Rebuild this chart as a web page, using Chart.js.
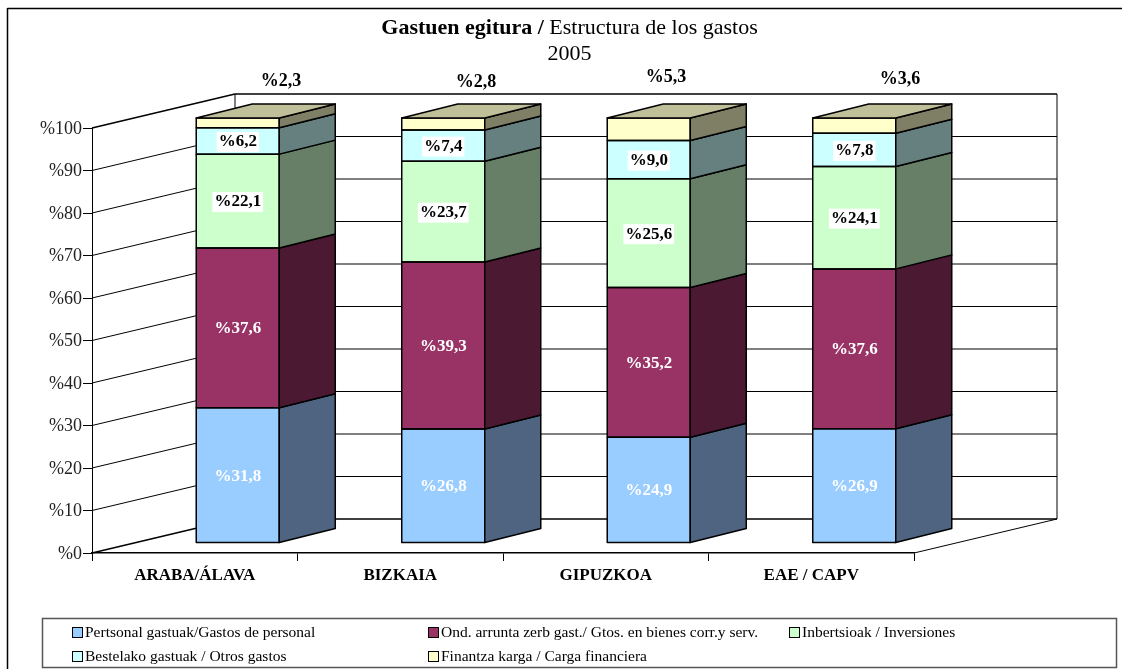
<!DOCTYPE html>
<html>
<head>
<meta charset="utf-8">
<title>Gastuen egitura</title>
<script src="https://cdn.jsdelivr.net/npm/chart.js@4"></script>
<style>
    html, body { margin: 0; padding: 0; background: #fff; }
    #wrap { width: 1122px; height: 669px; position: relative; }
</style>
</head>
<body>
<div id="wrap"><canvas id="grafikoa" width="1122" height="669"></canvas></div>
<script>
const categories = ['ARABA/ÁLAVA', 'BIZKAIA', 'GIPUZKOA', 'EAE / CAPV'];
const pertsonal = [31.8, 26.8, 24.9, 26.9];
const ondasunak = [37.6, 39.3, 35.2, 37.6];
const inbertsioak = [22.1, 23.7, 25.6, 24.1];
const bestelakoak = [6.2, 7.4, 9.0, 7.8];
const finantza = [2.3, 2.8, 5.3, 3.6];
const seriesNames = [
    'Pertsonal gastuak/Gastos de personal',
    'Ond. arrunta zerb gast./ Gtos. en bienes corr.y serv.',
    'Inbertsioak / Inversiones',
    'Bestelako gastuak / Otros gastos',
    'Finantza karga / Carga financiera'
];
const seriesColors = ['#99CCFF', '#993366', '#CCFFCC', '#CCFFFF', '#FFFFCC'];
const sideColors = ['#4F6480', '#4C1933', '#667F66', '#667F7F', '#7F7F66'];
const topColor = '#BFBF99';

const serif = '"Liberation Serif", "Times New Roman", serif';

// 3d look: wall depth and how far the bars sit inside it
const wallDx = 143, wallDy = -34;
const barDx = 43, barDy = -10;
const sideDx = 56, sideDy = -14;

// the last series labels were moved by hand above the bars
const topLabelX = [281, 476, 666, 900];
const topLabelY = [81, 82, 77, 79];

function pct(v) {
    return '%' + v.toFixed(1).replace('.', ',');
}

function line(ctx, x1, y1, x2, y2, w) {
    ctx.lineWidth = w || 1;
    ctx.beginPath();
    ctx.moveTo(x1, y1);
    ctx.lineTo(x2, y2);
    ctx.stroke();
}

const wallsPlugin = {
    id: 'walls',
    beforeDatasetsDraw(chart) {
        const ctx = chart.ctx;
        const y = chart.scales.y, a = chart.chartArea;
        ctx.save();
        ctx.strokeStyle = '#000';
        y.ticks.forEach((t) => {
            const p = y.getPixelForValue(t.value);
            const w = (t.value === 0 || t.value === 100) ? 1.5 : 1;
            line(ctx, a.left, p, a.left + wallDx, p + wallDy, w);
            line(ctx, a.left + wallDx, p + wallDy, a.right + wallDx, p + wallDy, w);
        });
        line(ctx, a.left + wallDx, a.top + wallDy, a.left + wallDx, a.bottom + wallDy, 1);
        line(ctx, a.right + wallDx, a.top + wallDy, a.right + wallDx, a.bottom + wallDy, 1);
        line(ctx, a.right, a.bottom, a.right + wallDx, a.bottom + wallDy, 1);
        ctx.restore();
        // bars go in front of the walls, moved into the box
        ctx.save();
        ctx.translate(barDx, barDy);
    },
    afterDatasetsDraw(chart) {
        const ctx = chart.ctx;
        ctx.restore();
        ctx.save();
        ctx.strokeStyle = '#000';
        ctx.lineWidth = 1.5;
        ctx.lineJoin = 'round';
        chart.data.datasets.forEach((ds, i) => {
            chart.getDatasetMeta(i).data.forEach((bar) => {
                const r = bar.x + bar.width / 2 + barDx;
                const l = bar.x - bar.width / 2 + barDx;
                const t = bar.y + barDy;
                const b = bar.base + barDy;
                // front outline, the seams between series stay solid black
                ctx.strokeRect(l, t, r - l, b - t);
                ctx.fillStyle = sideColors[i];
                ctx.beginPath();
                ctx.moveTo(r, t);
                ctx.lineTo(r + sideDx, t + sideDy);
                ctx.lineTo(r + sideDx, b + sideDy);
                ctx.lineTo(r, b);
                ctx.closePath();
                ctx.fill();
                ctx.stroke();
                if (i === chart.data.datasets.length - 1) {
                    ctx.fillStyle = topColor;
                    ctx.beginPath();
                    ctx.moveTo(l, t);
                    ctx.lineTo(l + sideDx, t + sideDy);
                    ctx.lineTo(r + sideDx, t + sideDy);
                    ctx.lineTo(r, t);
                    ctx.closePath();
                    ctx.fill();
                    ctx.stroke();
                }
            });
        });
        // value labels
        ctx.textAlign = 'center';
        ctx.textBaseline = 'middle';
        chart.data.datasets.forEach((ds, i) => {
            chart.getDatasetMeta(i).data.forEach((bar, j) => {
                const txt = pct(ds.data[j]);
                if (i === 4) {
                    ctx.fillStyle = '#000';
                    ctx.font = 'bold 18px ' + serif;
                    ctx.fillText(txt, topLabelX[j], topLabelY[j]);
                    return;
                }
                ctx.font = 'bold 17px ' + serif;
                const cx = bar.x + barDx;
                const cy = (bar.y + bar.base) / 2 + barDy + 1;
                if (i >= 2) {
                    const w = ctx.measureText(txt).width + 4;
                    ctx.fillStyle = '#fff';
                    ctx.fillRect(cx - w / 2, cy - 10, w, 20);
                    ctx.fillStyle = '#000';
                } else {
                    ctx.fillStyle = '#fff';
                }
                ctx.fillText(txt, cx, cy);
            });
        });
        ctx.restore();
    }
};

const framePlugin = {
    id: 'frame',
    afterDraw(chart) {
        const ctx = chart.ctx;
        ctx.save();
        // outer frame, only top and left are in the picture
        ctx.strokeStyle = '#000';
        line(ctx, 7.5, 8.5, 1122, 8.5, 1.5);
        line(ctx, 7.5, 8, 7.5, 669, 1.5);

        // title has a bold and a normal part
        ctx.fillStyle = '#000';
        ctx.textBaseline = 'alphabetic';
        ctx.textAlign = 'left';
        const bold = 'Gastuen egitura / ';
        const normal = 'Estructura de los gastos';
        ctx.font = 'bold 22px ' + serif;
        const bw = ctx.measureText(bold).width;
        ctx.font = '22px ' + serif;
        const nw = ctx.measureText(normal).width;
        const sx = 569.5 - (bw + nw) / 2;
        ctx.font = 'bold 22px ' + serif;
        ctx.fillText(bold, sx, 34);
        ctx.font = '22px ' + serif;
        ctx.fillText(normal, sx + bw, 34);
        ctx.textAlign = 'center';
        ctx.fillText('2005', 569.5, 60);

        // legend box
        ctx.strokeStyle = '#555';
        ctx.lineWidth = 1.5;
        ctx.strokeRect(42.5, 618.5, 1074, 49);
        ctx.lineWidth = 1;
        ctx.textAlign = 'left';
        ctx.textBaseline = 'middle';
        const cols = [72, 428, 789, 72, 428];
        const rows = [632, 632, 632, 656, 656];
        seriesNames.forEach((name, i) => {
            ctx.fillStyle = seriesColors[i];
            ctx.strokeStyle = '#000';
            ctx.fillRect(cols[i] + 0.5, rows[i] - 4.5, 10, 10);
            ctx.strokeRect(cols[i] + 0.5, rows[i] - 4.5, 10, 10);
            ctx.fillStyle = '#000';
            ctx.font = '15.5px ' + serif;
            ctx.fillText(name, cols[i] + 13, rows[i] + 0.5);
        });
        ctx.restore();
    }
};

const sets = [pertsonal, ondasunak, inbertsioak, bestelakoak, finantza];

new Chart(document.getElementById('grafikoa'), {
    type: 'bar',
    data: {
        labels: categories,
        datasets: sets.map((values, i) => ({
            label: seriesNames[i],
            data: values,
            backgroundColor: seriesColors[i],
            borderWidth: 0,
            barPercentage: 0.404,
            categoryPercentage: 1,
            clip: false
        }))
    },
    options: {
        responsive: false,
        animation: false,
        layout: { padding: { top: 128, right: 208, left: 0, bottom: 0 } },
        plugins: {
            legend: { display: false },
            title: { display: false },
            tooltip: { enabled: false }
        },
        scales: {
            x: {
                stacked: true,
                afterFit(s) { s.height = 116; },
                border: { color: '#000', width: 1.5 },
                grid: { drawOnChartArea: false, color: '#000', tickLength: 8, tickWidth: 1 },
                ticks: {
                    color: '#000',
                    padding: 4,
                    maxRotation: 0,
                    font: { family: serif, size: 17, weight: 'bold' }
                }
            },
            y: {
                stacked: true,
                min: 0,
                max: 100,
                afterFit(s) { s.width = 92; },
                border: { color: '#000', width: 1 },
                grid: { drawOnChartArea: false, color: '#000', tickLength: 9, tickWidth: 1 },
                ticks: {
                    stepSize: 10,
                    color: '#222',
                    padding: 1,
                    labelOffset: 1,
                    font: { family: serif, size: 18 },
                    callback: (v) => '%' + v
                }
            }
        }
    },
    plugins: [wallsPlugin, framePlugin]
});
</script>
</body>
</html>
